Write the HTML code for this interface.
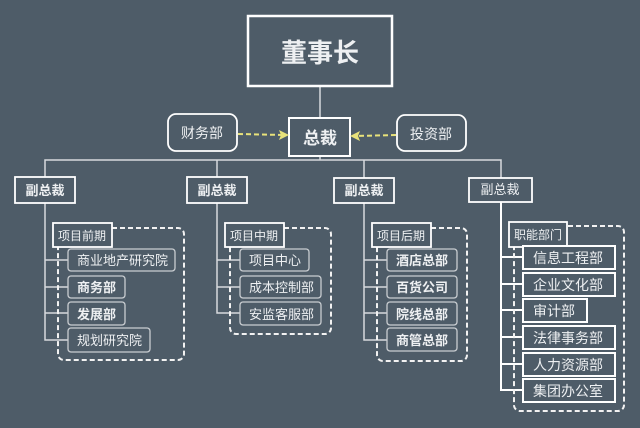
<!DOCTYPE html>
<html><head><meta charset="utf-8"><style>
html,body{margin:0;padding:0;background:#4e5c68;}
svg{display:block;}
text{font-family:"Liberation Sans","Noto Sans CJK SC",sans-serif;fill:#eef0f2;}
</style></head><body>
<svg width="640" height="428" viewBox="0 0 640 428" xmlns="http://www.w3.org/2000/svg">
<rect width="640" height="428" fill="#4e5c68"/>
<g fill="none" stroke="#d7dadd" stroke-width="1.5">
<line x1="320" y1="86" x2="320" y2="118"/>
<polyline points="45,177 45,160 501,160 501,178"/>
<line x1="217" y1="160" x2="217" y2="177"/>
<line x1="364" y1="160" x2="364" y2="178"/>
<line x1="320" y1="156" x2="320" y2="160"/>
<!-- group1 branches -->
<polyline points="45,203 45,340 68,340"/>
<line x1="45" y1="260" x2="68" y2="260"/><line x1="45" y1="287" x2="68" y2="287"/><line x1="45" y1="313" x2="68" y2="313"/>
<polyline points="217,203 217,313 240,313"/>
<line x1="217" y1="260" x2="240" y2="260"/><line x1="217" y1="287" x2="240" y2="287"/>
<polyline points="364,202 364,340 387,340"/>
<line x1="364" y1="260" x2="387" y2="260"/><line x1="364" y1="287" x2="387" y2="287"/><line x1="364" y1="313" x2="387" y2="313"/>
</g>
<g fill="none" stroke="#ffffff" stroke-width="2">
<polyline points="501,202 501,390 523,390"/>
<line x1="501" y1="257" x2="523" y2="257"/><line x1="501" y1="284" x2="523" y2="284"/><line x1="501" y1="310" x2="523" y2="310"/>
<line x1="501" y1="337" x2="523" y2="337"/><line x1="501" y1="364" x2="523" y2="364"/>
</g>
<!-- dashed groups -->
<g fill="none" stroke="#f2f2f2" stroke-width="2" stroke-dasharray="5,3">
<rect x="58" y="228" width="126" height="132" rx="6"/>
<rect x="230" y="228" width="101" height="106" rx="6"/>
<rect x="377" y="228" width="90" height="133" rx="6"/>
<rect x="514" y="226" width="110" height="185" rx="6"/>
</g>
<!-- top -->
<rect x="248" y="16" width="144" height="70" fill="#4e5c68" stroke="#fff" stroke-width="2.5"/>
<text x="320" y="62" font-size="26" font-weight="bold" text-anchor="middle">董事长</text>
<rect x="289" y="118" width="61" height="38" fill="#4e5c68" stroke="#fff" stroke-width="2"/>
<text x="320" y="144" font-size="17" font-weight="bold" text-anchor="middle">总裁</text>
<rect x="168" y="114" width="69" height="37" rx="8" fill="#4e5c68" stroke="#fff" stroke-width="1.8"/>
<text x="202" y="138" font-size="14" text-anchor="middle">财务部</text>
<rect x="397" y="115" width="69" height="36" rx="8" fill="#4e5c68" stroke="#fff" stroke-width="1.8"/>
<text x="431" y="139" font-size="14" text-anchor="middle">投资部</text>
<g stroke="#e8e27a" stroke-width="2" stroke-dasharray="5,3" fill="none">
<line x1="238" y1="134" x2="284" y2="135"/><line x1="396" y1="135" x2="356" y2="136"/>
</g>
<polygon points="289,135 279,130 281,135 279,140" fill="#e8e27a"/>
<polygon points="350,136 360,131 358,136 360,141" fill="#e8e27a"/>
<!-- VP boxes -->
<g fill="#4e5c68" stroke="#fff" stroke-width="1.8">
<rect x="15" y="177" width="60" height="26"/>
<rect x="187" y="177" width="60" height="26"/>
<rect x="334" y="178" width="60" height="25"/>
<rect x="469" y="178" width="63" height="24"/>
</g>
<g font-size="13" font-weight="bold" text-anchor="middle">
<text x="45" y="195">副总裁</text><text x="217" y="195">副总裁</text><text x="364" y="195">副总裁</text>
</g>
<text x="500" y="194" font-size="13" text-anchor="middle">副总裁</text>
<!-- group labels -->
<g fill="#4e5c68" stroke="#fff" stroke-width="1.8">
<rect x="53" y="223" width="59" height="24"/>
<rect x="225" y="223" width="59" height="24"/>
<rect x="372" y="223" width="59" height="24"/>
<rect x="509" y="222" width="58" height="25"/>
</g>
<g font-size="12" text-anchor="middle">
<text x="82" y="240">项目前期</text><text x="254" y="240">项目中期</text><text x="401" y="240">项目后期</text><text x="538" y="239">职能部门</text>
</g>
<!-- group1 items -->
<g fill="#4e5c68" stroke="#c9cdd1" stroke-width="1.3">
<rect x="68" y="249" width="107" height="22" rx="3"/>
<rect x="68" y="276" width="57" height="22" rx="3"/>
<rect x="68" y="302" width="57" height="23" rx="3"/>
<rect x="68" y="328" width="82" height="24" rx="3"/>
<rect x="240" y="249" width="69" height="22" rx="3"/>
<rect x="240" y="276" width="81" height="22" rx="3"/>
<rect x="240" y="302" width="81" height="23" rx="3"/>
<rect x="387" y="249" width="70" height="22" rx="3"/>
<rect x="387" y="276" width="70" height="22" rx="3"/>
<rect x="387" y="302" width="70" height="23" rx="3"/>
<rect x="387" y="328" width="70" height="23" rx="3"/>
</g>
<g font-size="13">
<text x="77" y="265">商业地产研究院</text>
<text x="77" y="292" font-weight="bold">商务部</text>
<text x="77" y="319" font-weight="bold">发展部</text>
<text x="77" y="345">规划研究院</text>
<text x="249" y="265">项目中心</text>
<text x="249" y="292">成本控制部</text>
<text x="249" y="319">安监客服部</text>
</g>
<g font-size="13" font-weight="bold" text-anchor="middle">
<text x="422" y="265">酒店总部</text><text x="422" y="292">百货公司</text><text x="422" y="319">院线总部</text><text x="422" y="345">商管总部</text>
</g>
<g fill="#4e5c68" stroke="#fff" stroke-width="2">
<rect x="523" y="246" width="92" height="23"/>
<rect x="523" y="273" width="92" height="23"/>
<rect x="523" y="299" width="64" height="23"/>
<rect x="523" y="326" width="92" height="23"/>
<rect x="523" y="353" width="92" height="23"/>
<rect x="523" y="379" width="92" height="23"/>
</g>
<g font-size="14">
<text x="533" y="263">信息工程部</text><text x="533" y="290">企业文化部</text><text x="533" y="316">审计部</text>
<text x="533" y="343">法律事务部</text><text x="533" y="370">人力资源部</text><text x="533" y="396">集团办公室</text>
</g>
</svg>
</body></html>
